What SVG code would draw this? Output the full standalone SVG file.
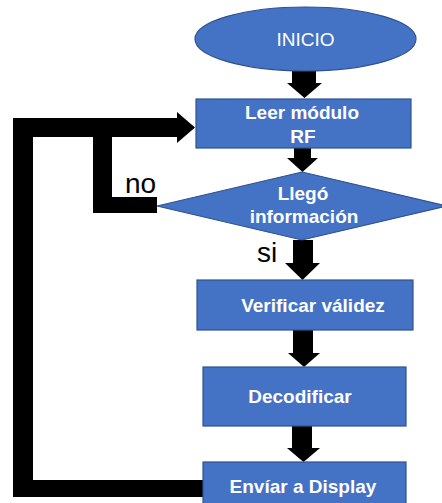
<svg xmlns="http://www.w3.org/2000/svg" width="442" height="503" viewBox="0 0 442 503">
  <style>
    .shape { fill: #4472C4; stroke: #2F528F; stroke-width: 1.2; }
    .label { fill: #FFFFFF; font-family: "Liberation Sans", Arial, sans-serif; font-weight: bold; font-size: 19px; text-anchor: middle; }
    .title { fill: #FFFFFF; font-family: "Liberation Sans", Arial, sans-serif; font-size: 19px; text-anchor: middle; }
    .branch { fill: #000000; font-family: "Liberation Sans", Arial, sans-serif; font-size: 28px; }
    .conn { fill: #000000; stroke: none; }
  </style>
  <rect width="442" height="503" fill="#FFFFFF"/>

  <!-- connectors -->
  <g id="connectors">
    <!-- INICIO to Leer -->
    <path class="conn" d="M292,71 H316 V83 H322 L304.5,98 L287,83 H292 Z"/>
    <!-- Leer to decision -->
    <path class="conn" d="M294,148 H311 V158 H318 L302.5,172 L287,158 H294 Z"/>
    <!-- decision (si) to Verificar -->
    <path class="conn" d="M293,240 H313 V263 H320 L302.5,280 L285,263 H293 Z"/>
    <!-- Verificar to Decodificar -->
    <path class="conn" d="M293,330 H313 V353 H320 L304,367 L288,353 H293 Z"/>
    <!-- Decodificar to Envíar -->
    <path class="conn" d="M292,426 H312 V448 H320 L303.5,462 L287,448 H292 Z"/>
    <!-- loop back from Envíar to Leer -->
    <path class="conn" d="M204,480 H33 V137 H177 V143 L195,127.5 L177,112 V118 H13 V497 H204 Z"/>
    <!-- decision (no) back to loop -->
    <path class="conn" d="M93,130 V213 H157 V197 H112 V130 Z"/>
  </g>

  <!-- nodes -->
  <g id="inicio">
    <ellipse class="shape" cx="305.5" cy="39" rx="110.5" ry="32"/>
    <text class="title" x="305.5" y="46">INICIO</text>
  </g>

  <g id="leer-modulo">
    <rect class="shape" x="196" y="99" width="215" height="49"/>
    <text class="label" x="302" y="118.5">Leer módulo</text>
    <text class="label" x="303" y="143">RF</text>
  </g>

  <g id="llego-informacion">
    <polygon class="shape" points="302,172 447,206 302,240 157,206"/>
    <text class="label" x="303" y="200">Llegó</text>
    <text class="label" x="304" y="223">información</text>
  </g>

  <g id="verificar">
    <rect class="shape" x="197" y="280" width="216" height="50"/>
    <text class="label" x="313" y="312">Verificar válidez</text>
  </g>

  <g id="decodificar">
    <rect class="shape" x="203" y="367" width="203" height="59"/>
    <text class="label" x="300" y="403">Decodificar</text>
  </g>

  <g id="enviar-display">
    <rect class="shape" x="203" y="462" width="203" height="45"/>
    <text class="label" x="303" y="493">Envíar a Display</text>
  </g>

  <!-- branch labels -->
  <g id="branch-labels">
    <text class="branch" x="125" y="193">no</text>
    <text class="branch" x="257" y="262">si</text>
  </g>
</svg>
